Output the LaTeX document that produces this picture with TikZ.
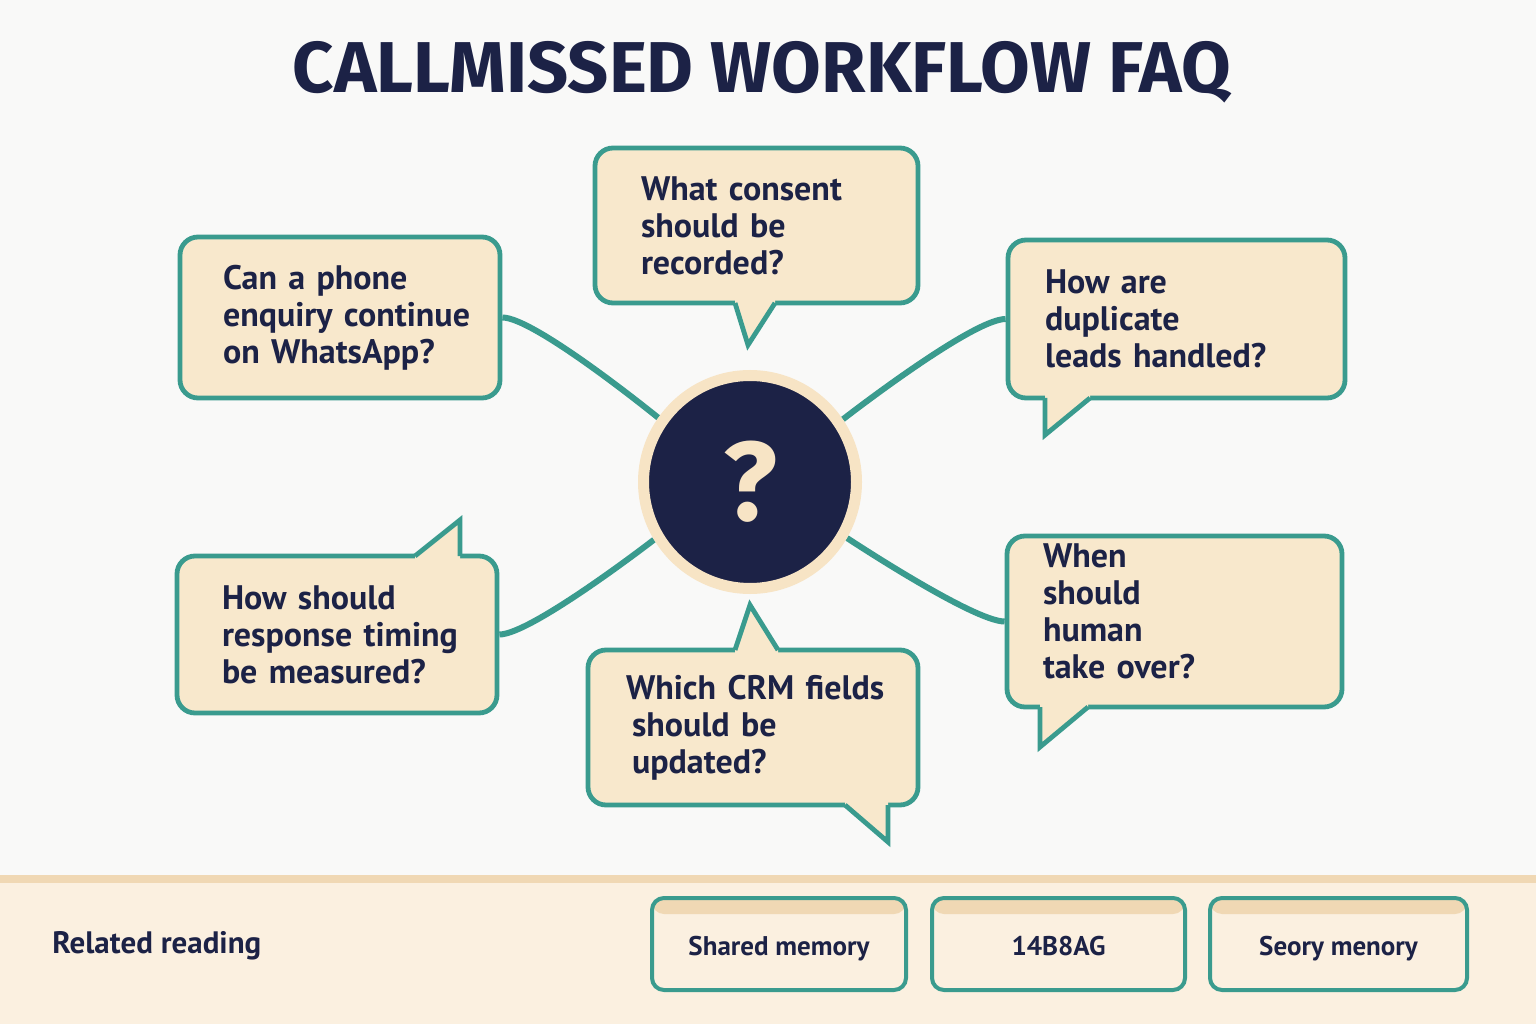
\documentclass[tikz,border=0pt]{standalone}
\usepackage{fontspec}
\setmainfont{PT Sans}
\newfontfamily\titlefont{Fira Sans}
\usetikzlibrary{positioning, backgrounds}
\definecolor{faqbg}{HTML}{F9F9F8}
\definecolor{faqband}{HTML}{FBF0E0}
\definecolor{faqstripe}{HTML}{F0D8B4}
\definecolor{faqcream}{HTML}{F8E8CC}
\definecolor{faqring}{HTML}{F7E4C5}
\definecolor{faqnavy}{HTML}{1C2246}
\definecolor{faqteal}{HTML}{3A9B8E}

\begin{document}
\begin{tikzpicture}[
    x=0.5pt, y=0.5pt,
    bubble/.style={
        rectangle,
        rounded corners=9pt,
        draw=faqteal,
        line width=2.4pt,
        fill=faqcream,
        text=faqnavy,
        font=\bfseries\fontsize{17}{18.5}\selectfont,
        align=left,
        inner ysep=0pt,
    },
    tailfill/.style={fill=faqcream},
    tailline/.style={draw=faqteal, line width=2.4pt, line join=miter},
    link/.style={draw=faqteal, line width=3pt},
    btn/.style={
        rectangle,
        rounded corners=6pt,
        draw=faqteal,
        line width=2pt,
        fill=faqband,
        text=faqnavy,
        font=\bfseries\fontsize{13.5}{15}\selectfont,
        text height=14.5pt,
        text depth=3pt,
        minimum width=127pt,
        minimum height=46pt,
        path picture={\fill[faqstripe] (path picture bounding box.north west)
            rectangle ([yshift=-8pt]path picture bounding box.north east);}
    },
    hub/.style={circle, fill=faqnavy, draw=faqring, line width=5.5pt,
        minimum size=106.5pt, inner sep=0pt, text=faqring,
        font=\titlefont\bfseries\fontsize{56}{60}\selectfont}
]
\useasboundingbox (0,0) rectangle (1536,1024);
\begin{scope}[on background layer]
\fill[faqbg] (0,0) rectangle (1536,1024);
\fill[faqband] (0,0) rectangle (1536,149);
\fill[faqstripe] (0,141) rectangle (1536,149);
\end{scope}

\node[font=\titlefont\bfseries\fontsize{36}{40}\selectfont, text=faqnavy] (title) at (762,952) {CALLMISSED WORKFLOW FAQ};

\node[hub] (c) at (750,542) {?};

\node[bubble, inner xsep=21.5pt, text width=117pt, minimum height=80.5pt] (q1) at (340,706.5) {%
  Can a phone\\ \mbox{enquiry continue}\\ on WhatsApp?%
};
\node[bubble, inner xsep=23pt, text width=115.5pt, minimum height=77.5pt] (q2) at (756.5,798.5) {%
  What consent\\ should be\\ recorded?%
};
\node[bubble, inner xsep=18.5pt, text width=131.5pt, minimum height=79pt] (q3) at (1176.5,705) {%
  How are\\ duplicate\\ \mbox{leads handled?}%
};
\node[bubble, inner xsep=22.5pt, text width=115pt, minimum height=78.5pt] (q4) at (337,389.5) {%
  How should\\ \mbox{response timing}\\ \mbox{be measured?}%
};
\node[bubble, inner xsep=19pt, text width=127pt, minimum height=77.5pt] (q5) at (753,296.5) {%
  \mbox{Which CRM fields}\\ \hspace*{3pt}should be\\ \hspace*{3pt}updated?%
};
\node[bubble, inner xsep=18pt, text width=131.5pt, minimum height=85.5pt] (q6) at (1174.5,402.5) {%
  When\\ should\\ human\\ take over?\rule[-10pt]{0pt}{10pt}%
};

\fill[tailfill] (735,725) -- (735,721) -- (748,679) -- (775,721) -- (775,725) -- cycle;
\draw[tailline] (735,721) -- (748,679) -- (775,721);
\fill[tailfill] (1045,630) -- (1045,626) -- (1045,589) -- (1090,626) -- (1090,630) -- cycle;
\draw[tailline] (1045,626) -- (1045,589) -- (1090,626);
\fill[tailfill] (415,464) -- (415,468) -- (460,504) -- (460,468) -- (460,464) -- cycle;
\draw[tailline] (415,468) -- (460,504) -- (460,468);
\fill[tailfill] (735,370) -- (735,374) -- (750,419) -- (778,374) -- (778,370) -- cycle;
\draw[tailline] (735,374) -- (750,419) -- (778,374);
\fill[tailfill] (845,223) -- (845,219) -- (888,182) -- (888,219) -- (888,223) -- cycle;
\draw[tailline] (845,219) -- (888,182) -- (888,219);
\fill[tailfill] (1040,321) -- (1040,317) -- (1040,277) -- (1088,317) -- (1088,321) -- cycle;
\draw[tailline] (1040,317) -- (1040,277) -- (1088,317);

\node[anchor=west, inner sep=0pt, text=faqnavy, font=\bfseries\fontsize{15.5}{17}\selectfont] (rel) at (52,78) {Related reading};
\node[btn] (b1) at (779,80) {Shared memory};
\node[btn, minimum width=126.5pt] (b2) at (1058.5,80) {14B8AG};
\node[btn, minimum width=128.5pt] (b3) at (1338.5,80) {Seory menory};

\begin{scope}[on background layer]
\draw[link] (q1.east) to[out=0, in=145, out looseness=0.45, in looseness=0] (c.145);
\draw[link] (q3.west) to[out=180, in=34, out looseness=0.45, in looseness=0] (c.34);
\draw[link] (q4.east) to[out=0, in=211, out looseness=0.45, in looseness=0] (c.211);
\draw[link] (q6.west) to[out=180, in=330, out looseness=0.45, in looseness=0] (c.330);
\end{scope}
\end{tikzpicture}
\end{document}
